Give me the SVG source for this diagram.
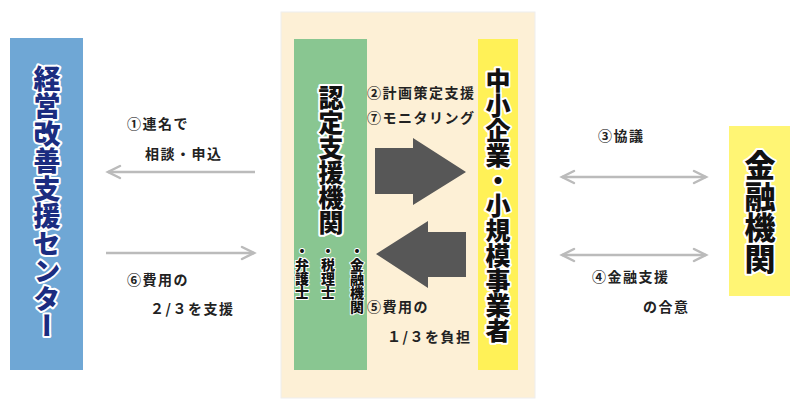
<svg xmlns="http://www.w3.org/2000/svg" width="800" height="414" viewBox="0 0 800 414">
<defs>
<style>
.v{writing-mode:vertical-rl;text-orientation:upright;font-family:"Noto Sans CJK JP",sans-serif;font-weight:900;paint-order:stroke;stroke:#fff;stroke-linejoin:round}
.l{font-family:"Noto Sans CJK JP",sans-serif;font-weight:700;font-size:14px;fill:#222;letter-spacing:1.5px}
.ln{stroke:#bbb;stroke-width:2.5;fill:none}
.hd{stroke:#bbb;stroke-width:2.5;fill:none;stroke-linecap:round}
</style>
</defs>
<rect width="800" height="414" fill="#fff"/>
<g id="center-panel"><rect x="281" y="12" width="254" height="386" fill="#fdf0d6" stroke="#eee"/></g>
<g id="keiei-center">
<rect x="10" y="38" width="73" height="332" fill="#6fa7d5"/>
<text class="v" x="47" y="65" font-size="27" fill="#1b2c80" stroke-width="4" letter-spacing="0.5">経営改善支援センター</text>
</g>
<g id="nintei">
<rect x="294" y="39" width="73" height="331" fill="#89c691"/>
<text class="v" x="331" y="85" font-size="25" fill="#111" stroke-width="4">認定支援機関</text>
<text class="v" x="302" y="244" font-size="14" fill="#111" stroke-width="2">・弁護士</text>
<text class="v" x="328" y="244" font-size="14" fill="#111" stroke-width="2">・税理士</text>
<text class="v" x="357" y="244" font-size="14" fill="#111" stroke-width="2">・金融機関</text>
</g>
<g id="chusho">
<rect x="478" y="39" width="40" height="331" fill="#fff157"/>
<text class="v" x="498" y="68" font-size="25" fill="#111" stroke-width="4">中小企業・小規模事業者</text>
</g>
<g id="kinyu">
<rect x="729" y="126" width="61" height="170" fill="#fff574"/>
<text class="v" x="760" y="150" font-size="31" fill="#111" stroke-width="4">金融機関</text>
</g>
<g id="connectors">
<line class="ln" x1="255" y1="172" x2="108" y2="172"/><polyline class="hd" points="120,166 108,172 120,178"/>
<line class="ln" x1="106" y1="253" x2="254" y2="253"/><polyline class="hd" points="242,247 254,253 242,259"/>
<line class="ln" x1="562" y1="177" x2="706" y2="177"/><polyline class="hd" points="574,171 562,177 574,183"/><polyline class="hd" points="694,171 706,177 694,183"/>
<line class="ln" x1="562" y1="255" x2="706" y2="255"/><polyline class="hd" points="574,249 562,255 574,261"/><polyline class="hd" points="694,249 706,255 694,261"/>
<polygon points="375,148 413,148 413,138 466,172 413,205 413,194 375,194" fill="#575757"/>
<polygon points="466,232 428,232 428,221 376,254 428,288 428,277 466,277" fill="#575757"/>
</g>
<g id="labels">
<text class="l" x="127" y="129">①連名で</text>
<text class="l" x="145" y="159">相談・申込</text>
<text class="l" x="127" y="285">⑥費用の</text>
<text class="l" x="150" y="314" letter-spacing="3">２/３を支援</text>
<text class="l" x="367" y="98">②計画策定支援</text>
<text class="l" x="367" y="123">⑦モニタリング</text>
<text class="l" x="367" y="312">⑤費用の</text>
<text class="l" x="387" y="342" letter-spacing="3">１/３を負担</text>
<text class="l" x="598" y="141">③協議</text>
<text class="l" x="592" y="282">④金融支援</text>
<text class="l" x="643" y="312">の合意</text>
</g>
</svg>
